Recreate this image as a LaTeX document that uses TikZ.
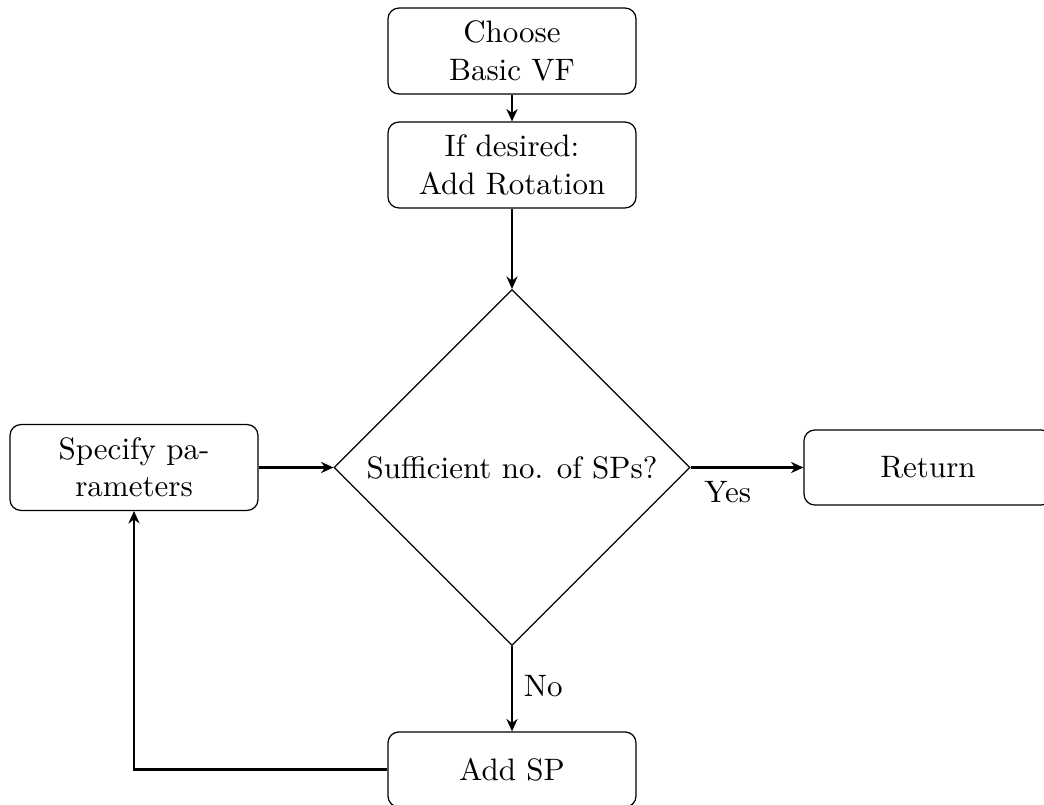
\documentclass[tikz,border=0pt]{standalone}
\usetikzlibrary{shapes.geometric,arrows.meta}
\begin{document}
\begin{tikzpicture}[x=0.32258pt,y=-0.32258pt,
  box/.style={draw,rounded corners=3.5pt,minimum width=80pt,minimum height=27.7pt,align=center,inner sep=2pt},
  shortbox/.style={box,minimum height=24.2pt},
  dec/.style={draw,diamond,minimum width=114.8pt,minimum height=114.8pt,inner sep=0pt,aspect=1},
  arr/.style={-{Stealth[length=4pt,width=3.6pt]},line width=0.7pt},
  lbl/.style={inner sep=0pt}]
\useasboundingbox (0,0) rectangle (1044,805);
\node[box] (choose) at (512,51) {Choose\\Basic VF};
\node[box] (rot) at (512,165) {If desired:\\Add Rotation};
\node[dec] (suff) at (512,467.5) {Sufficient no. of SPs?};
\node[box] (spec) at (134,467.5) {Specify pa-\\rameters};
\node[shortbox] (ret) at (928,467.5) {Return};
\node[shortbox] (add) at (512,769.5) {Add SP};
\coordinate (corner) at (134,769.5);
\draw[arr] (choose) -- (rot);
\draw[arr] (rot) -- (suff);
\draw[arr] (spec) -- (suff);
\draw[arr] (suff) -- node[lbl,pos=0.33,below=4pt] {Yes} (ret);
\draw[arr] (suff) -- node[lbl,pos=0.47,right=3.5pt] {No} (add);
\draw[arr] (add.west) -- (corner) -- (spec.south);
\end{tikzpicture}
\end{document}
